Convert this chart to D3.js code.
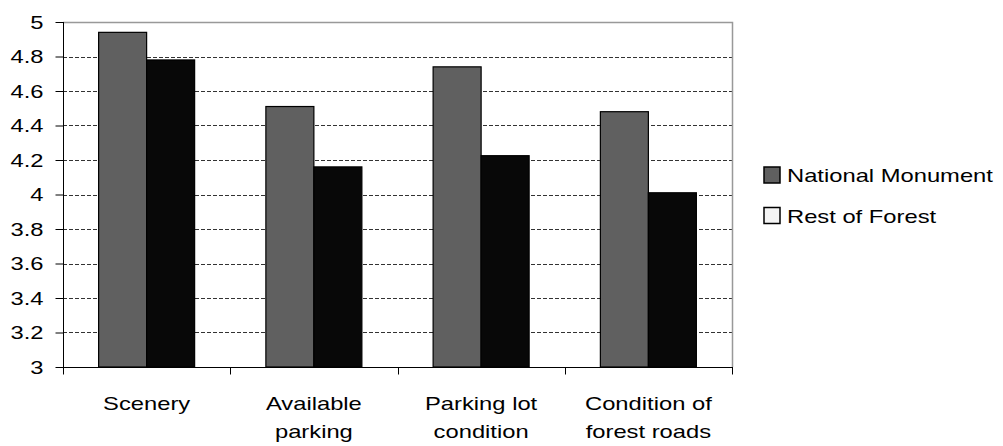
<!DOCTYPE html>
<html>
<head>
<meta charset="utf-8">
<script src="https://cdn.jsdelivr.net/npm/d3@7"></script>
<style>
  html, body { margin: 0; padding: 0; background: #fff; }
  svg { display: block; font-family: "Liberation Sans", Arial, sans-serif; }
</style>
</head>
<body>
<svg id="chart" width="1003" height="446"></svg>
<script>
// Ratings by category
const categories = [["Scenery"], ["Available", "parking"], ["Parking lot", "condition"], ["Condition of", "forest roads"]];
const series = ["National Monument", "Rest of Forest"];
const monumentValues = [4.94, 4.51, 4.74, 4.48];
const forestValues = [4.78, 4.16, 4.225, 4.01];
const yTicks = [3, 3.2, 3.4, 3.6, 3.8, 4, 4.2, 4.4, 4.6, 4.8, 5];
const legendSwatches = ["#606060", "#f4f4f4"];

const barFill = ["#606060", "#080808"];
const textStretch = 1.25;   // wide lettering
const fontSize = 19;

const svg = d3.select("#chart");
const plot = { left: 63, right: 732, top: 22, bottom: 367 };

const catKeys = categories.map(c => c.join(" "));
const x0 = d3.scaleBand().domain(catKeys).range([plot.left, plot.right]).padding(0);
const x1 = d3.scaleBand().domain(series).range([0, x0.bandwidth()]).paddingInner(0).paddingOuter(0.742);
const y = d3.scaleLinear().domain([3, 5]).range([plot.bottom, plot.top]);

// Dashed gridlines
svg.append("g")
  .selectAll("line")
  .data(yTicks.filter(t => t > 3 && t < 5))
  .join("line")
  .attr("x1", plot.left).attr("x2", plot.right)
  .attr("y1", d => Math.round(y(d)) + 0.5).attr("y2", d => Math.round(y(d)) + 0.5)
  .attr("stroke", "#333").attr("stroke-width", 1).attr("stroke-dasharray", "4,2");

// Plot area border (top and right)
svg.append("path")
  .attr("d", `M${plot.left},${plot.top + 0.5}H${plot.right + 0.5}V${plot.bottom}`)
  .attr("fill", "none").attr("stroke", "#999").attr("stroke-width", 1.5);

// Bars
const rows = catKeys.map((k, i) => ({ key: k, values: [monumentValues[i], forestValues[i]] }));
const groups = svg.append("g").selectAll("g")
  .data(rows).join("g")
  .attr("transform", d => `translate(${x0(d.key)},0)`);
groups.selectAll("rect")
  .data(d => d.values.map((v, j) => ({ s: series[j], v, j })))
  .join("rect")
  .attr("x", d => x1(d.s))
  .attr("width", x1.bandwidth())
  .attr("y", d => y(d.v))
  .attr("height", d => y(3) - y(d.v))
  .attr("fill", d => barFill[d.j])
  .attr("stroke", "#000").attr("stroke-width", 1.2);

// Y axis
const yAxis = svg.append("g")
  .attr("transform", `translate(${plot.left + 0.5},0)`)
  .call(d3.axisLeft(y).tickValues(yTicks).tickSize(8).tickFormat(d3.format("")));
yAxis.select(".domain").attr("stroke", "#000").attr("d", `M0,${plot.top}V${plot.bottom}`);
yAxis.selectAll(".tick line").attr("stroke", "#000");
yAxis.selectAll(".tick text").remove();
yAxis.selectAll(".tick").append("text")
  .attr("transform", `translate(-20,6) scale(${textStretch},1)`)
  .attr("text-anchor", "end")
  .attr("fill", "#000")
  .attr("font-size", fontSize)
  .text(d => d3.format("")(d));

// X axis: ticks at category boundaries
const xAxis = svg.append("g").attr("transform", `translate(0,${plot.bottom + 0.5})`);
xAxis.append("line").attr("x1", plot.left).attr("x2", plot.right + 1).attr("stroke", "#000");
xAxis.selectAll("line.tk")
  .data(catKeys.map(k => x0(k)).concat([plot.right]))
  .join("line").attr("class", "tk")
  .attr("x1", d => Math.round(d) + 0.5).attr("x2", d => Math.round(d) + 0.5)
  .attr("y1", 0).attr("y2", 7).attr("stroke", "#000");

const labels = svg.append("g").selectAll("text")
  .data(categories).join("text")
  .attr("transform", (d, i) => `translate(${x0(catKeys[i]) + x0.bandwidth() / 2},410) scale(${textStretch},1)`)
  .attr("text-anchor", "middle")
  .attr("font-size", fontSize)
  .attr("fill", "#000");
labels.selectAll("tspan")
  .data(d => d).join("tspan")
  .attr("x", 0).attr("y", (d, i) => i * 28)
  .text(d => d);

// Legend
const legend = svg.append("g").selectAll("g")
  .data(series).join("g")
  .attr("transform", (d, i) => `translate(764,${167 + i * 40.5})`);
legend.append("rect")
  .attr("width", 16).attr("height", 16)
  .attr("fill", (d, i) => legendSwatches[i])
  .attr("stroke", "#000").attr("stroke-width", 1.5);
legend.append("text")
  .attr("transform", `translate(23,15) scale(${textStretch},1)`)
  .attr("font-size", fontSize)
  .attr("fill", "#000")
  .text(d => d);
</script>
</body>
</html>
